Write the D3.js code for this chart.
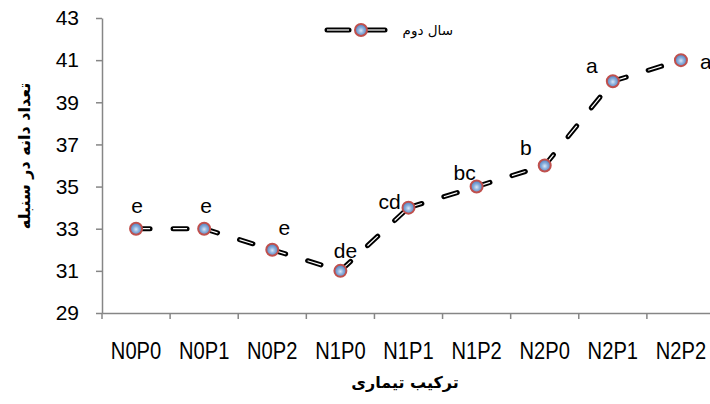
<!DOCTYPE html>
<meta charset="utf-8">
<script src="https://d3js.org/d3.v7.min.js"></script>
<style>
    body { margin: 0; background: #fff; }
    .axis path, .axis line { stroke: #868686; stroke-width: 1.5px; }
</style>
<div id="my_dataviz"></div>
<script>

    // data
    var treatments = ["N0P0", "N0P1", "N0P2", "N1P0", "N1P1", "N1P2", "N2P0", "N2P1", "N2P2"];
    var grains = [33, 33, 32, 31, 34, 35, 36, 40, 41];
    var letters = ["e", "e", "e", "de", "cd", "bc", "b", "a", "a"];
    var yTicks = [29, 31, 33, 35, 37, 39, 41, 43];
    var seriesName = "سال دوم";
    var yTitle = "تعداد دانه در سنبله";
    var xTitle = "ترکیب تیماری";

    // where each letter sits relative to its point (like Excel's dragged labels)
    var labelOffset = [[1, -16], [2, -16], [12, -15], [5, -13], [-19, 1], [-12, -7], [-19, -11], [-21, -8], [25, 9]];

    var W = 710, H = 404;
    var plotLeft = 102, plotRight = 715, plotTop = 18, plotBottom = 313;

    var svg = d3.select("#my_dataviz")
        .append("svg")
        .attr("width", W)
        .attr("height", H);

    var x = d3.scaleBand()
        .domain(treatments)
        .range([plotLeft, plotRight]);

    var y = d3.scaleLinear()
        .domain([29, 43])
        .range([plotBottom, plotTop]);

    // gradient for the markers
    var grad = svg.append("defs").append("radialGradient")
        .attr("id", "mk")
        .attr("cx", "50%").attr("cy", "55%").attr("r", "55%");
    grad.append("stop").attr("offset", "0%").attr("stop-color", "#dce8f7");
    grad.append("stop").attr("offset", "45%").attr("stop-color", "#89aedb");
    grad.append("stop").attr("offset", "100%").attr("stop-color", "#4a7bbd");

    // Y axis
    var yAxis = svg.append("g")
        .attr("class", "axis")
        .attr("transform", "translate(" + plotLeft + ",0)")
        .call(d3.axisLeft(y).tickValues(yTicks).tickSize(6).tickPadding(17).tickSizeOuter(0));
    yAxis.selectAll("text")
        .style("font-family", "'Liberation Sans', Arial, sans-serif")
        .style("font-size", "21px")
        .style("fill", "#000");

    // X axis: labels at centers, ticks between categories
    var xAxis = svg.append("g")
        .attr("class", "axis")
        .attr("transform", "translate(0," + plotBottom + ")")
        .call(d3.axisBottom(x).tickSize(0).tickSizeOuter(0));
    xAxis.selectAll(".tick text")
        .attr("y", 29)
        .attr("dy", "0.71em")
        .attr("transform", "scale(0.84,1)")
        .style("font-family", "'Liberation Sans', Arial, sans-serif")
        .style("font-size", "24px")
        .style("fill", "#000");
    xAxis.selectAll(".sep")
        .data(treatments)
        .enter().append("line")
        .attr("class", "sep")
        .attr("x1", function(d) { return x(d); })
        .attr("x2", function(d) { return x(d); })
        .attr("y1", 0)
        .attr("y2", 6);

    // dashed line, one piece per segment so the dash restarts at each point
    var pts = treatments.map(function(d, i) { return [x(d) + x.bandwidth() / 2, y(grains[i])]; });
    var segs = d3.pairs(pts);
    var line = d3.line();

    svg.append("g").selectAll("path")
        .data(segs)
        .enter().append("path")
        .attr("d", line)
        .style("fill", "none")
        .style("stroke", "#000")
        .style("stroke-width", 5)
        .style("stroke-linecap", "round")
        .style("stroke-dasharray", "14,23");
    svg.append("g").selectAll("path")
        .data(segs)
        .enter().append("path")
        .attr("d", line)
        .style("fill", "none")
        .style("stroke", "#fff")
        .style("stroke-width", 1.2)
        .style("stroke-dasharray", "14,23");

    // markers
    svg.append("g").selectAll("circle")
        .data(pts)
        .enter().append("circle")
        .attr("cx", function(d) { return d[0]; })
        .attr("cy", function(d) { return d[1]; })
        .attr("r", 6)
        .style("fill", "url(#mk)")
        .style("stroke", "#c0504d")
        .style("stroke-width", 2);

    // letters
    svg.append("g").selectAll("text")
        .data(letters)
        .enter().append("text")
        .attr("x", function(d, i) { return pts[i][0] + labelOffset[i][0]; })
        .attr("y", function(d, i) { return pts[i][1] + labelOffset[i][1]; })
        .attr("text-anchor", "middle")
        .style("font-family", "'Liberation Sans', Arial, sans-serif")
        .style("font-size", "21px")
        .text(function(d) { return d; });

    // legend
    var lg = svg.append("g").attr("transform", "translate(327,30)");
    [[0, 22], [36, 58]].forEach(function(s) {
        lg.append("line").attr("x1", s[0]).attr("x2", s[1])
            .style("stroke", "#000").style("stroke-width", 5).style("stroke-linecap", "round");
        lg.append("line").attr("x1", s[0]).attr("x2", s[1])
            .style("stroke", "#fff").style("stroke-width", 1.2);
    });
    lg.append("circle").attr("cx", 34).attr("r", 6)
        .style("fill", "url(#mk)").style("stroke", "#c0504d").style("stroke-width", 2);
    lg.append("text")
        .attr("x", 126)
        .attr("y", 5)
        .attr("text-anchor", "end")
        .style("font-family", "'DejaVu Sans', sans-serif")
        .style("font-size", "13.5px")
        .text(seriesName);

    // axis titles
    svg.append("text")
        .attr("x", 405)
        .attr("y", 388)
        .attr("text-anchor", "middle")
        .style("font-family", "'DejaVu Sans', sans-serif")
        .style("font-weight", "bold")
        .style("font-size", "16px")
        .text(xTitle);

    svg.append("text")
        .attr("transform", "translate(30,156) rotate(-90)")
        .attr("text-anchor", "middle")
        .style("font-family", "'DejaVu Sans', sans-serif")
        .style("font-weight", "bold")
        .style("font-size", "16px")
        .text(yTitle);

</script>
